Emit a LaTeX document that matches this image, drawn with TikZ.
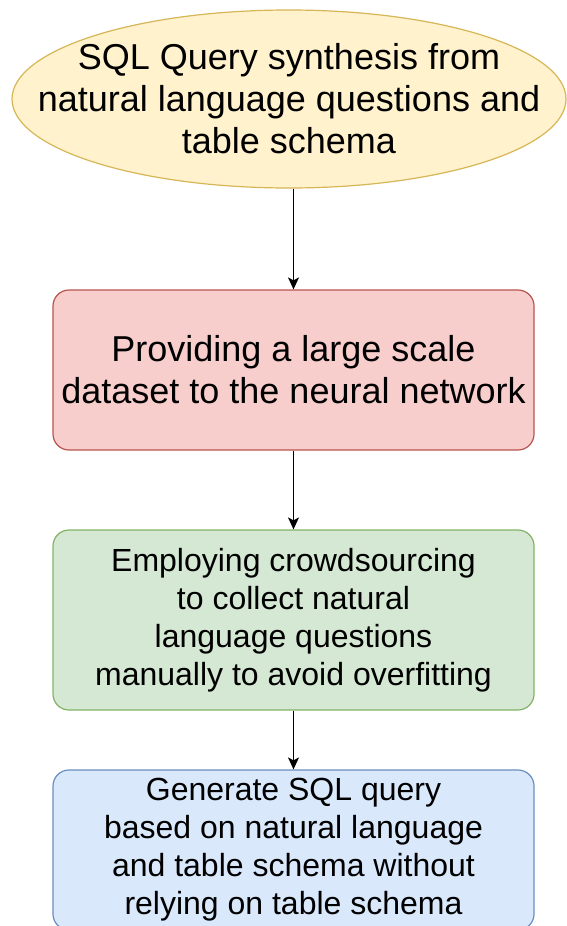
\documentclass[tikz,border=0pt]{standalone}
\usepackage{fontspec}
\setmainfont{Liberation Sans}
\usetikzlibrary{shapes.geometric,arrows.meta}
\definecolor{yfill}{HTML}{FFF2CC}\definecolor{ydraw}{HTML}{D6B656}
\definecolor{rfill}{HTML}{F8CECC}\definecolor{rdraw}{HTML}{B85450}
\definecolor{gfill}{HTML}{D5E8D4}\definecolor{gdraw}{HTML}{82B366}
\definecolor{bfill}{HTML}{DAE8FC}\definecolor{bdraw}{HTML}{6C8EBF}
\tikzset{
  box/.style={rectangle, rounded corners=16pt, line width=1.2pt, minimum width=481pt, inner sep=0pt, align=center},
  big/.style={font=\fontsize{36}{42}\selectfont},
  small/.style={font=\fontsize{32}{38}\selectfont},
  conn/.style={line width=1.2pt, -{Stealth[length=12pt,width=11pt,inset=3pt]}}
}
\begin{document}
\begin{tikzpicture}[x=1pt,y=-1pt]
\useasboundingbox (0,0) rectangle (566,926);
\node[ellipse, fill=yfill, draw=ydraw, line width=1.2pt, minimum width=554pt, minimum height=178pt, inner xsep=-70pt, inner ysep=-20pt, align=center, big] (q) at (289,99) {SQL Query synthesis from\\natural language questions and\\table schema};
\node[box, fill=rfill, draw=rdraw, minimum height=160pt, big] (p) at (293.5,370) {Providing a large scale\\dataset to the neural network};
\node[box, fill=gfill, draw=gdraw, minimum height=180pt, small] (e) at (293.5,620) {Employing crowdsourcing\\to collect natural\\language questions\\manually to avoid overfitting};
\node[box, fill=bfill, draw=bdraw, minimum height=160pt, small] (g) at (293.5,850) {Generate SQL query\\based on natural language\\and table schema without\\relying on table schema};
\draw[conn] (q.south -| p.north) -- (p.north);
\draw[conn] (p) -- (e);
\draw[conn] (e) -- (g);
\end{tikzpicture}
\end{document}
